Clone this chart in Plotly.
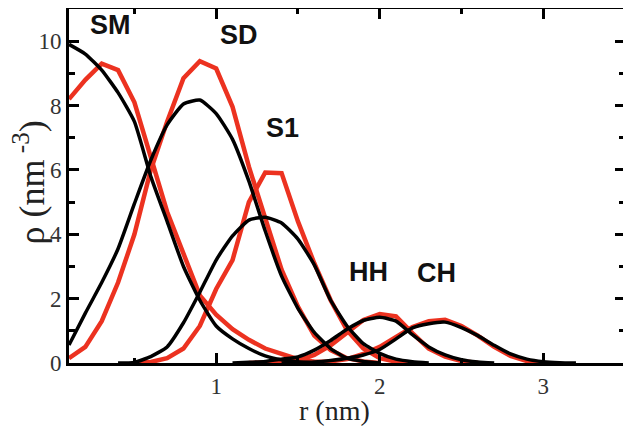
import plotly.graph_objects as go

r = [round(0.1 * i, 1) for i in range(1, 33)]  # 0.1 .. 3.2 nm

N = None
# black curves (None = curve not drawn there)
sm_black = [9.9, 9.6, 9.1, 8.4, 7.5, 5.8, 4.4, 3.0, 1.95, 1.15, 0.75, 0.45, 0.22, 0.1, 0.04, 0.0] + [N] * 16
sd_black = [0.56, 1.55, 2.5, 3.55, 4.95, 6.3, 7.4, 8.05, 8.17, 7.75, 6.95, 5.65, 4.1, 2.7, 1.7, 0.95, 0.45, 0.15, 0.05, 0.0] + [N] * 12
s1_black = [N, N, N, 0.0, 0.02, 0.2, 0.5, 1.25, 2.2, 3.2, 3.95, 4.44, 4.53, 4.35, 3.85, 3.05, 1.95, 1.15, 0.6, 0.3, 0.12, 0.04, 0.0] + [N] * 9
hh_black = [N] * 10 + [0.0, 0.02, 0.05, 0.12, 0.19, 0.4, 0.7, 1.05, 1.32, 1.42, 1.3, 0.88, 0.5, 0.25, 0.1, 0.03, 0.0] + [N] * 5
ch_black = [N] * 13 + [0.0, 0.01, 0.03, 0.08, 0.15, 0.25, 0.42, 0.75, 1.09, 1.22, 1.27, 1.1, 0.85, 0.55, 0.28, 0.12, 0.04, 0.01, 0.0]

# red curves
sm_red = [8.2, 8.8, 9.3, 9.1, 8.1, 6.4, 4.7, 3.4, 2.1, 1.5, 1.05, 0.72, 0.45, 0.28, 0.12, 0.04, 0.0] + [N] * 15
sd_red = [0.15, 0.5, 1.3, 2.5, 4.0, 6.0, 7.5, 8.85, 9.38, 9.15, 7.96, 6.1, 4.5, 2.9, 1.75, 0.85, 0.4, 0.15, 0.05, 0.0] + [N] * 12
s1_red = [N, N, N, N, 0.0, 0.03, 0.15, 0.45, 1.15, 2.3, 3.2, 5.0, 5.92, 5.9, 4.4, 3.1, 1.95, 1.02, 0.45, 0.15, 0.04, 0.0] + [N] * 10
hh_red = [N] * 11 + [0.0, 0.01, 0.03, 0.08, 0.25, 0.55, 0.95, 1.34, 1.52, 1.45, 0.93, 0.45, 0.2, 0.06, 0.0] + [N] * 6
ch_red = [N] * 13 + [0.0, 0.01, 0.02, 0.05, 0.12, 0.28, 0.5, 0.82, 1.12, 1.3, 1.34, 1.15, 0.85, 0.5, 0.22, 0.06, 0.0] + [N] * 2

labels = ["SM", "SD", "S1", "HH", "CH"]
label_x = [0.355, 1.138, 1.407, 1.93, 2.349]
label_y = [10.5, 10.19, 7.3, 2.84, 2.81]

x_ticks = [1, 2, 3]
y_ticks = [0, 2, 4, 6, 8, 10]

RED = "#ec3220"
BLACK = "#000000"
SERIF = "Liberation Serif, Times New Roman, serif"

fig = go.Figure()
for ys in [sm_red, sd_red, s1_red, hh_red, ch_red]:
    fig.add_trace(go.Scatter(x=r, y=ys, mode="lines", connectgaps=False,
                             line=dict(color=RED, width=4.5), showlegend=False))
for ys in [sm_black, sd_black, s1_black, hh_black, ch_black]:
    fig.add_trace(go.Scatter(x=r, y=ys, mode="lines", connectgaps=False,
                             line=dict(color=BLACK, width=3.5, shape="spline", smoothing=0.5),
                             showlegend=False))

for t, x, y in zip(labels, label_x, label_y):
    fig.add_annotation(x=x, y=y, text="<b>" + t + "</b>", showarrow=False,
                       font=dict(family="Liberation Sans, Arial, sans-serif", size=27, color="#111111"),
                       xanchor="center", yanchor="middle")

# axis titles
fig.add_annotation(xref="paper", yref="paper", x=0.478, y=-0.133, text="r (nm)", showarrow=False,
                   font=dict(family=SERIF, size=28, color="#222222"), xanchor="center", yanchor="middle")
fig.add_annotation(xref="paper", yref="paper", x=-0.072, y=0.51, text="ρ (nm<sup> -3</sup>)", showarrow=False,
                   textangle=-90, font=dict(family=SERIF, size=36, color="#222222"),
                   xanchor="center", yanchor="middle")

axis_common = dict(showgrid=False, zeroline=False, showline=True, linecolor="black",
                   linewidth=3, mirror="ticks", ticks="inside", tickcolor="black",
                   tickwidth=3, ticklen=10, automargin=False,
                   tickfont=dict(family=SERIF, size=23, color="#333333"))

fig.update_xaxes(range=[0.1, 3.5], tickvals=x_ticks, ticktext=[str(v) for v in x_ticks],
                 minor=dict(dtick=0.5, tick0=0, ticks="inside", ticklen=5, tickwidth=3, tickcolor="black", showgrid=False),
                 **axis_common)
fig.update_yaxes(range=[0, 11], tickvals=y_ticks, ticktext=[str(v) for v in y_ticks],
                 minor=dict(dtick=1, tick0=0, ticks="inside", ticklen=6, tickwidth=3, tickcolor="black", showgrid=False),
                 **axis_common)

# the page body adds an 8px offset, so the figure is sized to the remaining viewport
fig.update_layout(width=623, height=418, margin=dict(l=61, r=6, t=1, b=63),
                  plot_bgcolor="white", paper_bgcolor="white")

fig.write_html("out.html")
